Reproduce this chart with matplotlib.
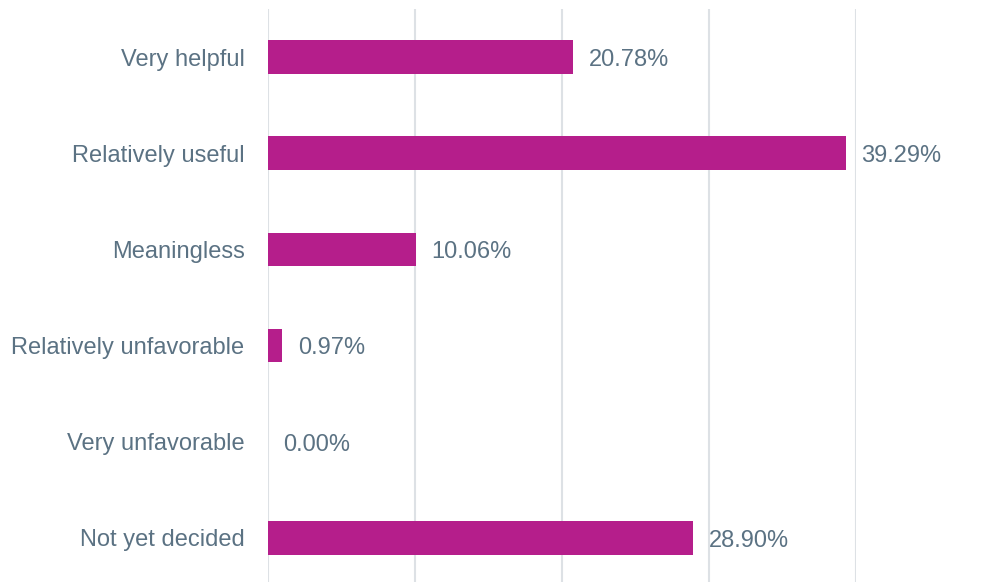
import matplotlib
matplotlib.use("Agg")
import matplotlib.pyplot as plt

categories = ["Very helpful", "Relatively useful", "Meaningless",
              "Relatively unfavorable", "Very unfavorable", "Not yet decided"]
values = [20.78, 39.29, 10.06, 0.97, 0.00, 28.90]
value_labels = ["20.78%", "39.29%", "10.06%", "0.97%", "0.00%", "28.90%"]

bar_color = "#B51E8B"
text_color = "#5B7283"
grid_color = "#DDE1E5"

plt.rcParams["font.family"] = ["Liberation Sans", "DejaVu Sans"]

fig = plt.figure(figsize=(9.88, 5.82), dpi=100)
W, H = 988, 582
left, right, top, bottom = 267.5, 856, 9, 586
ax = fig.add_axes([left / W, 1 - bottom / H, (right - left) / W, (bottom - top) / H])

y = list(range(len(categories)))
ax.barh(y, values, height=0.35, color=bar_color, zorder=3)
ax.set_ylim(len(categories) - 0.5, -0.5)
ax.set_xlim(0, 40)
ax.set_xticks([0, 10, 20, 30, 40])
ax.set_xticklabels([])
ax.tick_params(axis="x", length=0)
ax.tick_params(axis="y", length=0, pad=16.5, labelsize=17, labelcolor=text_color)
ax.set_yticks(y)
ax.set_yticklabels(categories)
ax.grid(axis="x", color=grid_color, linewidth=1.5, zorder=0)
for s in ax.spines.values():
    s.set_visible(False)

for yi, v, lab in zip(y, values, value_labels):
    ax.annotate(lab, xy=(v, yi), xytext=(11.5, -2), textcoords="offset points",
                va="center", ha="left", fontsize=17, color=text_color,
                annotation_clip=False)

fig.savefig("out.png", dpi=100)
